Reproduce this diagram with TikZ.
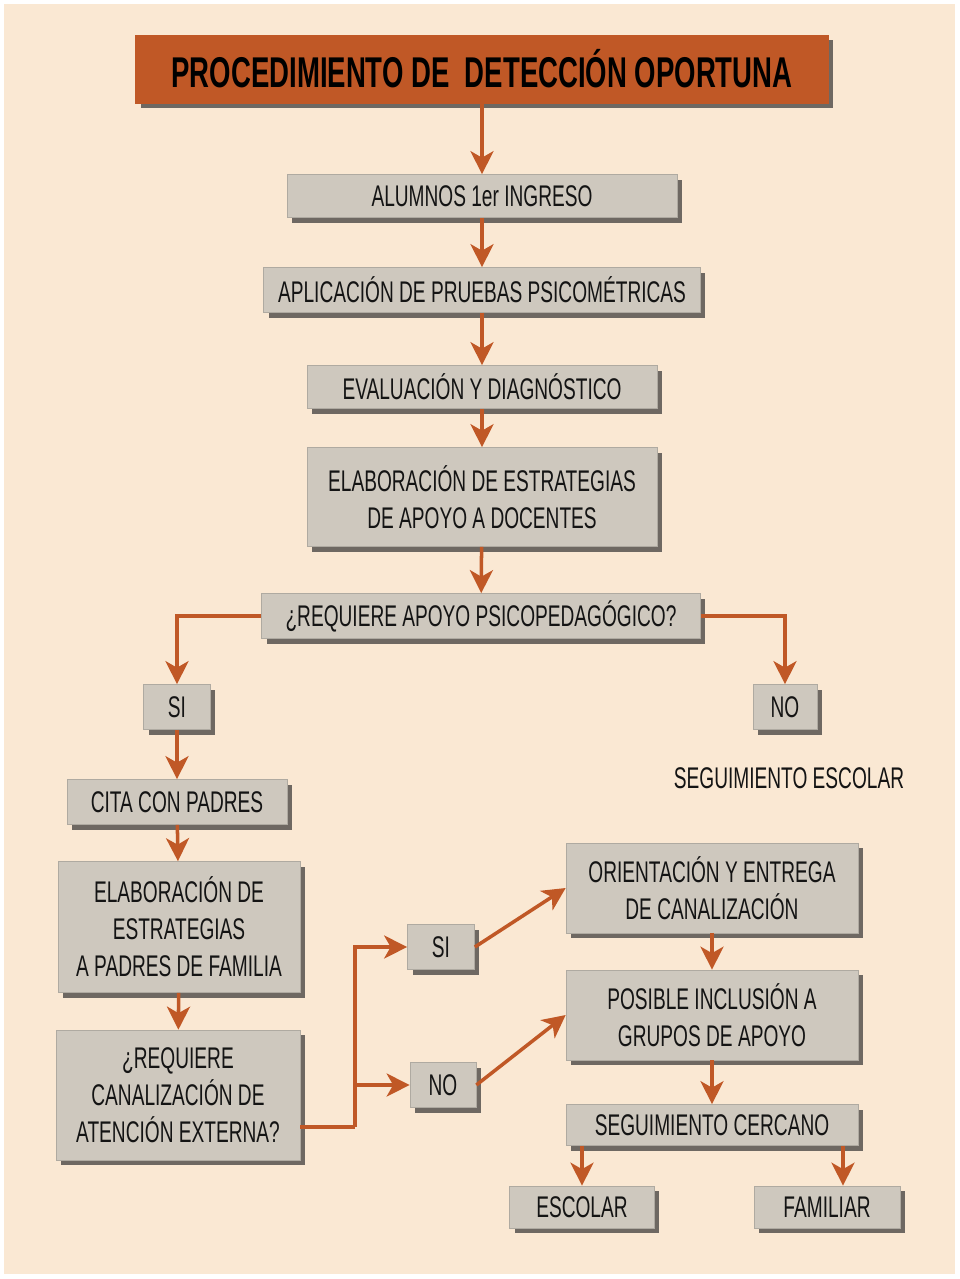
\documentclass[tikz,border=0pt]{standalone}
\usepackage{fontspec}
\setmainfont{Liberation Sans}[FakeStretch=0.64]
\usetikzlibrary{arrows.meta,shadows}
\definecolor{fondo}{RGB}{250,232,211}
\definecolor{cobre}{RGB}{192,88,38}
\definecolor{caja}{RGB}{206,200,190}

\begin{document}
\begin{tikzpicture}[x=0.02cm,y=-0.02cm,
  paso/.style={fill=caja,draw=caja!85!black,line width=0.4pt,
    drop shadow={shadow xshift=0.1cm,shadow yshift=-0.1cm,fill=black!80,opacity=0.7},
    font=\fontsize{17}{21}\selectfont,align=center,inner sep=0pt,text=black!92},
  titulo/.style={paso,fill=cobre,draw=cobre,font=\fontsize{24.5}{30}\selectfont\bfseries,text=black},
  flecha/.style={-{Stealth[length=0.46cm,width=0.46cm,inset=0.13cm]},cobre,line width=2pt},
  linea/.style={cobre,line width=2pt}]

%background and margins
\useasboundingbox (0,0) rectangle (960,1279);
\fill[white] (0,0) rectangle (960,1279);
\fill[fondo] (4,4) rectangle (955,1274);

%main column
\node[titulo,minimum width=13.86cm,minimum height=1.36cm] (titulo) at (482,69) {PROCEDIMIENTO DE \ DETECCIÓN OPORTUNA};
\node[paso,minimum width=7.8cm,minimum height=0.86cm] (alumnos) at (482,196) {ALUMNOS 1er INGRESO};
\node[paso,minimum width=8.74cm,minimum height=0.9cm] (pruebas) at (482,290) {APLICACIÓN DE PRUEBAS PSICOMÉTRICAS};
\node[paso,minimum width=7cm,minimum height=0.86cm] (evaluacion) at (482,387) {EVALUACIÓN Y DIAGNÓSTICO};
\node[paso,minimum width=7cm,minimum height=1.98cm] (docentes) at (482,497) {ELABORACIÓN DE ESTRATEGIAS\\ DE APOYO A DOCENTES};
\node[paso,minimum width=8.78cm,minimum height=0.9cm] (apoyo) at (481,616) {¿REQUIERE APOYO PSICOPEDAGÓGICO?};

%first answer
\node[paso,minimum width=1.34cm,minimum height=0.9cm] (si) at (177,707) {SI};
\node[paso,minimum width=1.28cm,minimum height=0.9cm] (no) at (785,707) {NO};
\node[font=\fontsize{17}{21}\selectfont,text=black!92] (seguimiento) at (789,778) {SEGUIMIENTO ESCOLAR};

%left column
\node[paso,minimum width=4.4cm,minimum height=0.9cm] (cita) at (177,802) {CITA CON PADRES};
\node[paso,minimum width=4.84cm,minimum height=2.62cm] (padres) at (179,927) {ELABORACIÓN DE\\ ESTRATEGIAS\\ A PADRES DE FAMILIA};
\node[paso,minimum width=4.88cm,minimum height=2.6cm] (canal) at (178,1095) {¿REQUIERE\\ CANALIZACIÓN DE\\ ATENCIÓN EXTERNA?};

%second answer
\node[paso,minimum width=1.34cm,minimum height=0.9cm] (si2) at (441,947) {SI};
\node[paso,minimum width=1.32cm,minimum height=0.9cm] (no2) at (443,1085) {NO};

%right column
\node[paso,minimum width=5.84cm,minimum height=1.8cm] (orienta) at (712,888) {ORIENTACIÓN Y ENTREGA\\ DE CANALIZACIÓN};
\node[paso,minimum width=5.84cm,minimum height=1.8cm] (grupos) at (712,1015) {POSIBLE INCLUSIÓN A\\ GRUPOS DE APOYO};
\node[paso,minimum width=5.84cm,minimum height=0.82cm] (cercano) at (712,1125) {SEGUIMIENTO CERCANO};
\node[paso,minimum width=2.9cm,minimum height=0.84cm] (escolar) at (582,1207) {ESCOLAR};
\node[paso,minimum width=2.92cm,minimum height=0.84cm] (familiar) at (827,1207) {FAMILIAR};

%draw vertical arrows
\foreach \a/\b in {titulo/alumnos,alumnos/pruebas,pruebas/evaluacion,evaluacion/docentes,docentes/apoyo,si/cita,cita/padres,padres/canal,orienta/grupos,grupos/cercano}
	{
	\draw[flecha] (\a) -- (\b);
	}

%draw branches
\draw[flecha] (apoyo.west) -| (si.north);
\draw[flecha] (apoyo.east) -| (no.north);
\coordinate (corte) at (355,1127);
\draw[linea] (canal.east |- corte) -- (corte);
\draw[flecha] (corte) |- (si2.west);
\draw[flecha] (corte |- no2.west) -- (no2.west);
\draw[flecha] (si2.east) -- (orienta.west);
\draw[flecha] (no2.east) -- (grupos.west);
\draw[flecha] (cercano.south -| escolar.north) -- (escolar.north);
\draw[flecha] ([xshift=0.32cm]familiar.north |- cercano.south) -- ([xshift=0.32cm]familiar.north);

\end{tikzpicture}
\end{document}
